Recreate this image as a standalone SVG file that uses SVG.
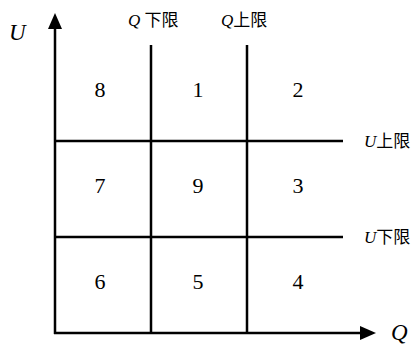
<svg xmlns="http://www.w3.org/2000/svg" width="415" height="344" viewBox="0 0 415 344">
<style>
.ln{stroke:#000;stroke-width:2.5;fill:none}
.n{font-family:"Liberation Serif","Times New Roman",serif;font-size:22px;text-anchor:middle;fill:#000}
.ax{font-family:"Liberation Serif","Times New Roman",serif;font-size:23px;font-style:italic;fill:#000}
.lb{font-family:"Liberation Serif","Noto Sans CJK SC",serif;font-size:17px;fill:#000}
.it{font-style:italic}
</style>
<rect width="415" height="344" fill="#fff"/>
<g id="connectors">
<path class="ln" d="M55,334 V28"/>
<path d="M48,29 L55,13 L62,29 Z" fill="#000"/>
<path class="ln" d="M54,333 H361"/>
<path d="M360,326 L376,333 L360,340 Z" fill="#000"/>
<path class="ln" d="M151,45 V333"/>
<path class="ln" d="M247,45 V333"/>
<path class="ln" d="M55,141 H343"/>
<path class="ln" d="M55,237 H343"/>
</g>
<g id="axis-U"><text class="ax" x="9" y="40">U</text></g>
<g id="axis-Q"><text class="ax" x="391" y="340">Q</text></g>
<g id="Qmin"><text class="lb" x="128" y="26"><tspan class="it">Q</tspan> 下限</text></g>
<g id="Qmax"><text class="lb" x="221" y="26"><tspan class="it">Q</tspan>上限</text></g>
<g id="Umax"><text class="lb" x="364" y="147"><tspan class="it">U</tspan>上限</text></g>
<g id="Umin"><text class="lb" x="364" y="243"><tspan class="it">U</tspan>下限</text></g>
<g id="r8"><text class="n" x="100" y="97">8</text></g>
<g id="r1"><text class="n" x="198" y="97">1</text></g>
<g id="r2"><text class="n" x="298" y="97">2</text></g>
<g id="r7"><text class="n" x="100" y="193">7</text></g>
<g id="r9"><text class="n" x="198" y="193">9</text></g>
<g id="r3"><text class="n" x="298" y="193">3</text></g>
<g id="r6"><text class="n" x="100" y="289">6</text></g>
<g id="r5"><text class="n" x="198" y="289">5</text></g>
<g id="r4"><text class="n" x="298" y="289">4</text></g>
</svg>
